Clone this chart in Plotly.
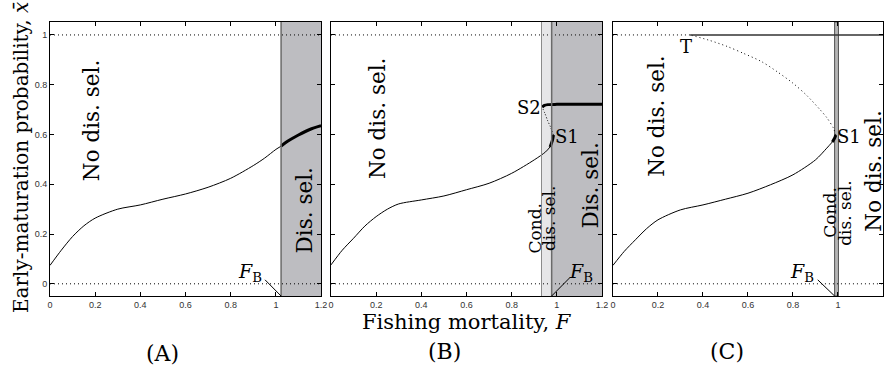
import plotly.graph_objects as go

# ---------------- data ----------------
# Panel A
A_low_F = [0, 0.05, 0.1, 0.15, 0.2, 0.3, 0.4, 0.5, 0.6, 0.7, 0.8, 0.9, 0.95, 1.0, 1.023]
A_low_x = [0.074, 0.135, 0.19, 0.233, 0.264, 0.30, 0.317, 0.34, 0.361, 0.388, 0.424, 0.475, 0.505, 0.54, 0.553]
A_thick_F = [1.023, 1.05, 1.1, 1.15, 1.2]
A_thick_x = [0.553, 0.572, 0.598, 0.62, 0.635]
A_FB = 1.023

# Panel B
B_low_F = [0, 0.05, 0.1, 0.15, 0.2, 0.25, 0.3, 0.4, 0.5, 0.6, 0.7, 0.8, 0.9, 0.95, 0.97]
B_low_x = [0.076, 0.135, 0.183, 0.232, 0.27, 0.30, 0.321, 0.337, 0.353, 0.378, 0.404, 0.444, 0.498, 0.53, 0.55]
B_s1_F = [0.97, 0.98, 0.985]
B_s1_x = [0.55, 0.575, 0.598]
B_unst_F = [0.985, 0.972, 0.96, 0.947, 0.935]
B_unst_x = [0.598, 0.63, 0.654, 0.685, 0.71]
B_up_F = [0.935, 0.945, 0.96, 1.0, 1.1, 1.2]
B_up_x = [0.71, 0.717, 0.72, 0.721, 0.721, 0.721]
B_cond = 0.932
B_FB = 0.977

# Panel C
C_low_F = [0, 0.05, 0.1, 0.15, 0.2, 0.3, 0.4, 0.5, 0.6, 0.7, 0.8, 0.9, 0.95, 0.975]
C_low_x = [0.074, 0.13, 0.177, 0.222, 0.257, 0.297, 0.317, 0.34, 0.364, 0.398, 0.438, 0.498, 0.545, 0.57]
C_s1_F = [0.975, 0.985, 0.99]
C_s1_x = [0.57, 0.585, 0.598]
C_unst_F = [0.99, 0.98, 0.95, 0.92, 0.86, 0.8, 0.73, 0.66, 0.58, 0.51, 0.43, 0.343]
C_unst_x = [0.598, 0.625, 0.668, 0.70, 0.758, 0.806, 0.852, 0.893, 0.926, 0.953, 0.978, 1.0]
C_top_F = [0.343, 1.2]
C_top_x = [1.0, 1.0]
C_band = [0.985, 1.002]

x_ticks = [0, 0.2, 0.4, 0.6, 0.8, 1, 1.2]
x_ticklabels = ["0", "0.2", "0.4", "0.6", "0.8", "1", "1.2"]
y_ticks = [0, 0.2, 0.4, 0.6, 0.8, 1]
y_ticklabels = ["0", "0.2", "0.4", "0.6", "0.8", "1"]

XR = [0, 1.2]
YR = [-0.049, 1.052]

SERIF = "DejaVu Serif, serif"
DARK = "#bdbdc1"
LIGHT = "#e6e6e8"

fig = go.Figure()


def add_line(F, x, ax, width=1, dash="solid", color="black", spline=True):
    fig.add_trace(go.Scatter(
        x=F, y=x, mode="lines", xaxis="x" + ax, yaxis="y" + ax,
        line=dict(color=color, width=width, dash=dash,
                  shape="spline" if spline else "linear", smoothing=0.8),
        showlegend=False, hoverinfo="skip"))


DOT = "1px,3px"
for ax in ["", "2", "3"]:
    add_line([0, 1.2], [0, 0], ax, dash=DOT, spline=False)
add_line([0, 1.2], [1, 1], "", dash=DOT, spline=False)
add_line([0, 1.2], [1, 1], "2", dash=DOT, spline=False)
add_line([0, 0.343], [1, 1], "3", dash=DOT, spline=False)

# Panel A curves
add_line(A_low_F, A_low_x, "")
add_line(A_thick_F, A_thick_x, "", width=3)
# Panel B curves
add_line(B_low_F, B_low_x, "2")
add_line(B_s1_F, B_s1_x, "2", width=3)
add_line(B_unst_F, B_unst_x, "2", dash="1px,2px")
add_line(B_up_F, B_up_x, "2", width=3)
# Panel C curves
add_line(C_low_F, C_low_x, "3")
add_line(C_s1_F, C_s1_x, "3", width=3)
add_line(C_unst_F, C_unst_x, "3", dash="1px,3px")
add_line(C_top_F, C_top_x, "3", width=1.5, color="#333333", spline=False)

shapes = []
# Panel A region
shapes.append(dict(type="rect", xref="x", yref="y", x0=A_FB, x1=1.2, y0=YR[0], y1=YR[1],
                   fillcolor=DARK, line=dict(width=0), layer="below"))
shapes.append(dict(type="line", xref="x", yref="y", x0=A_FB, x1=A_FB, y0=YR[0], y1=YR[1],
                   line=dict(color="#6a6a6a", width=1.5)))
# Panel B regions
shapes.append(dict(type="rect", xref="x2", yref="y2", x0=B_cond, x1=B_FB, y0=YR[0], y1=YR[1],
                   fillcolor=LIGHT, line=dict(width=0), layer="below"))
shapes.append(dict(type="rect", xref="x2", yref="y2", x0=B_FB, x1=1.2, y0=YR[0], y1=YR[1],
                   fillcolor=DARK, line=dict(width=0), layer="below"))
shapes.append(dict(type="line", xref="x2", yref="y2", x0=B_cond, x1=B_cond, y0=YR[0], y1=YR[1],
                   line=dict(color="#8a8a8a", width=1)))
shapes.append(dict(type="line", xref="x2", yref="y2", x0=B_FB, x1=B_FB, y0=YR[0], y1=YR[1],
                   line=dict(color="#6a6a6a", width=1.5)))
# Panel C band
shapes.append(dict(type="rect", xref="x3", yref="y3", x0=C_band[0], x1=C_band[1], y0=YR[0], y1=YR[1],
                   fillcolor="#b5b5b5", line=dict(color="#505050", width=1), layer="below"))
# F_B pointers
shapes.append(dict(type="line", xref="x", yref="y", x0=0.952, y0=0.016, x1=A_FB, y1=YR[0],
                   line=dict(color="black", width=1)))
shapes.append(dict(type="line", xref="x2", yref="y2", x0=B_FB, y0=YR[0], x1=1.06, y1=0.027,
                   line=dict(color="black", width=1)))
shapes.append(dict(type="line", xref="x3", yref="y3", x0=0.91, y0=0.016, x1=0.985, y1=YR[0],
                   line=dict(color="black", width=1)))

ann = []


def text(ax, x, y, s, size=20, angle=0):
    ann.append(dict(xref="x" + ax, yref="y" + ax, x=x, y=y, text=s, showarrow=False,
                    textangle=angle, font=dict(family=SERIF, size=size, color="black"),
                    xanchor="center", yanchor="middle"))


FB = "<i>F</i><sub>B</sub>"
BIG = 21.5
# Panel A
text("", 0.183, 0.655, "No dis. sel.", BIG, -90)
text("", 1.128, 0.294, "Dis. sel.", BIG, -90)
text("", 0.885, 0.045, FB, 19)
# Panel B
text("2", 0.207, 0.665, "No dis. sel.", BIG, -90)
text("2", 1.147, 0.395, "Dis. sel.", BIG, -90)
text("2", 0.902, 0.221, "Cond.", 17, -90)
text("2", 0.966, 0.261, "dis. sel.", 17, -90)
text("2", 1.108, 0.045, FB, 19)
text("2", 0.877, 0.709, "S2", 18)
text("2", 1.046, 0.592, "S1", 18)
# Panel C
text("3", 0.192, 0.672, "No dis. sel.", BIG, -90)
text("3", 0.967, 0.284, "Cond.", 17, -90)
text("3", 1.033, 0.283, "dis. sel.", 17, -90)
text("3", 1.156, 0.451, "No dis. sel.", BIG, -90)
text("3", 0.842, 0.045, FB, 19)
text("3", 1.051, 0.592, "S1", 18)
text("3", 0.326, 0.952, "T", 18)


def ptext(x, y, s, size=20, angle=0):
    ann.append(dict(xref="paper", yref="paper", x=x, y=y, text=s, showarrow=False,
                    textangle=angle, font=dict(family=SERIF, size=size, color="black"),
                    xanchor="center", yanchor="middle"))


ptext(-0.0346, 0.504, "Early-maturation probability, <i>x̄</i>", 20, -90)
ptext(0.5006, -0.095, "Fishing mortality, <i>F</i>", 21)
ptext(0.1347, -0.21, "(A)", 22)
ptext(0.4732, -0.204, "(B)", 22)
ptext(0.8129, -0.204, "(C)", 22)

axis_common = dict(range=XR, showgrid=False, zeroline=False, showline=True, linecolor="black",
                   linewidth=1, mirror="ticks", ticks="inside", ticklen=4, tickcolor="black",
                   tickvals=x_ticks, ticktext=x_ticklabels,
                   tickfont=dict(family="Liberation Sans, Arial, sans-serif", size=9, color="#333"))
yaxis_common = dict(range=YR, showgrid=False, zeroline=False, showline=True, linecolor="black",
                    linewidth=1, mirror="ticks", ticks="inside", ticklen=4, tickcolor="black",
                    tickvals=y_ticks, ticktext=y_ticklabels,
                    tickfont=dict(family="Liberation Sans, Arial, sans-serif", size=9, color="#333"))

dA = [0.0, 0.3254]
dB = [0.3373, 0.6627]
dC = [0.6758, 1.0]

fig.update_layout(
    width=889, height=369,
    margin=dict(l=50, r=0, t=22, b=73),
    paper_bgcolor="white", plot_bgcolor="white",
    xaxis=dict(axis_common, domain=dA, anchor="y"),
    xaxis2=dict(axis_common, domain=dB, anchor="y2"),
    xaxis3=dict(axis_common, domain=dC, anchor="y3"),
    yaxis=dict(yaxis_common, domain=[0, 1], anchor="x"),
    yaxis2=dict(yaxis_common, domain=[0, 1], anchor="x2", showticklabels=False),
    yaxis3=dict(yaxis_common, domain=[0, 1], anchor="x3", showticklabels=False),
    shapes=shapes, annotations=ann,
)

fig.write_html("out.html")
